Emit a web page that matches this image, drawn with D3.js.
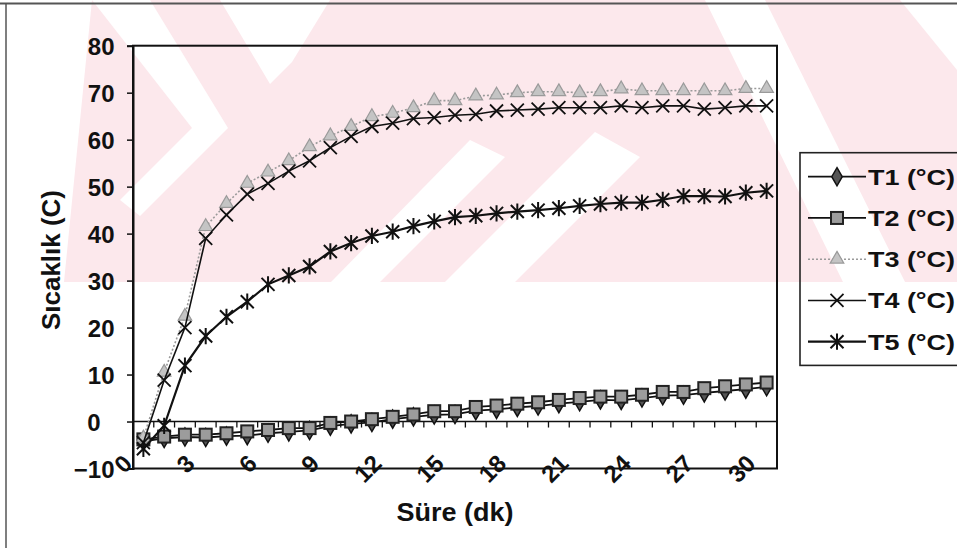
<!DOCTYPE html>
<html><head><meta charset="utf-8">
<script src="https://cdn.jsdelivr.net/npm/d3@7"></script>
<style>
body{margin:0;background:#fff;}
svg{display:block;}
text{font-family:Arial,"Liberation Sans",sans-serif;font-weight:bold;fill:#111;}
</style>
</head><body>
<svg id="c" width="957" height="559"></svg>
<script>
// ---------- data ----------
const minutes = [0,1,2,3,4,5,6,7,8,9,10,11,12,13,14,15,16,17,18,19,20,21,22,23,24,25,26,27,28,29,30];
const xTickLabels = [0,3,6,9,12,15,18,21,24,27,30];
const yTicks = [-10,0,10,20,30,40,50,60,70,80];
const seriesNames = ["T1 (°C)","T2 (°C)","T3 (°C)","T4 (°C)","T5 (°C)"];
const T1 = [-4.2,-3.6,-3.3,-3.4,-3.1,-3.0,-2.5,-2.2,-1.9,-1.0,-0.5,-0.2,0.5,1.0,1.4,1.5,2.3,2.6,3.0,3.3,3.8,4.2,4.6,4.5,5.0,5.5,5.6,6.1,6.5,6.9,7.4];
const T2 = [-3.8,-3.2,-2.8,-2.8,-2.5,-2.1,-1.8,-1.4,-1.4,-0.3,0.0,0.5,1.0,1.5,2.2,2.2,3.1,3.4,3.8,4.1,4.6,5.0,5.3,5.3,5.7,6.3,6.3,7.1,7.5,7.9,8.3];
const T3 = [-3.5,10.5,22.4,41.5,46.4,50.7,53.1,55.5,58.5,60.8,62.8,64.9,65.6,66.8,68.3,68.3,69.3,69.5,70.0,70.2,70.2,70.0,70.2,70.8,70.4,70.4,70.4,70.4,70.4,70.9,70.9];
const T4 = [-4.5,8.8,20.0,39.0,44.0,48.4,50.7,53.3,55.5,58.3,60.7,62.8,63.5,64.5,64.7,65.2,65.4,66.1,66.3,66.5,66.8,66.8,66.8,67.2,66.8,67.2,67.2,66.5,66.8,67.2,67.2];
const T5 = [-5.8,-0.9,11.9,18.2,22.3,25.5,29.2,31.1,33.0,36.2,38.0,39.5,40.4,41.6,42.6,43.5,43.8,44.3,44.7,45.0,45.4,45.9,46.3,46.6,46.6,47.2,48.0,48.0,47.9,48.7,49.1];
const seriesValues = [T1,T2,T3,T4,T5];

// decorative scan watermark (background only)
const watermarkPink = [[92,0],[957,0],[957,282],[64,282]];
const watermarkWhite = [
  [[92,0],[150,0],[228,128],[140,216],[120,200],[192,128],[92,0]],
  [[220,0],[330,0],[292,62],[270,84]],
  [[331,282],[380,282],[505,157],[470,140]],
  [[445,282],[515,282],[640,157],[595,132]],
  [[705,0],[765,0],[905,282],[843,282]],
  [[900,0],[957,0],[957,70]]
];

// ---------- layout ----------
const svg = d3.select("#c");
const L = 133, R = 777, T = 45.7, B = 468.5;

svg.append("polygon").attr("points", watermarkPink.join(" ")).attr("fill","#fce8ec");
svg.selectAll("polygon.w").data(watermarkWhite).join("polygon").attr("class","w")
  .attr("points", d => d.join(" ")).attr("fill","#fff");

svg.append("line").attr("x1",0).attr("x2",957).attr("y1",3.5).attr("y2",3.5).attr("stroke","#555").attr("stroke-width",2);
svg.append("line").attr("x1",6).attr("x2",6).attr("y1",3).attr("y2",548).attr("stroke","#555").attr("stroke-width",1.5);

const x = d3.scaleBand().domain(minutes).range([L,R]);
const bw = x.bandwidth();
const cx = d => x(d) + bw/2;
const y = d3.scaleLinear().domain([-10,80]).range([B,T]);

svg.append("rect").attr("x",L).attr("y",T).attr("width",R-L).attr("height",B-T)
  .attr("fill","none").attr("stroke","#111").attr("stroke-width",2);

const yAxis = svg.append("g").attr("transform",`translate(${L},0)`)
  .call(d3.axisLeft(y).tickValues(yTicks).tickSize(6).tickFormat(d3.format("d")));
yAxis.select(".domain").attr("stroke","#111").attr("stroke-width",2);
yAxis.selectAll(".tick line").attr("stroke","#111").attr("stroke-width",1.5);
yAxis.selectAll(".tick text")
  .attr("x",0).attr("dy","0.36em")
  .attr("transform", d => `translate(${d===0 ? -32.5 : -18.5},0)`)
  .style("font-size","24px").style("font-family","Arial, 'Liberation Sans', sans-serif").style("font-weight","bold").attr("fill","#111");

const x0 = svg.append("g");
x0.append("line").attr("x1",L).attr("x2",R).attr("y1",y(0)).attr("y2",y(0)).attr("stroke","#111").attr("stroke-width",1.5);
x0.selectAll("line.t").data(minutes.slice(1)).join("line").attr("class","t")
  .attr("x1",d=>x(d)).attr("x2",d=>x(d)).attr("y1",y(0)).attr("y2",y(0)+6)
  .attr("stroke","#111").attr("stroke-width",1.3);

svg.append("g").selectAll("text").data(xTickLabels).join("text")
  .attr("transform", d => `translate(${cx(d)-15.7},${B-9.5}) rotate(-45)`)
  .attr("text-anchor","end").attr("dy","0.36em").style("font-size","24px")
  .text(d=>d);

svg.append("text").attr("transform","translate(51,260) rotate(-90)")
  .attr("text-anchor","middle").attr("dy","0.36em").style("font-size","25px")
  .attr("textLength",140).attr("lengthAdjust","spacingAndGlyphs").text("Sıcaklık (C)");
svg.append("text").attr("x",455).attr("y",521).attr("text-anchor","middle").style("font-size","25px")
  .attr("textLength",117).attr("lengthAdjust","spacingAndGlyphs").text("Süre (dk)");

// ---------- series ----------
const styles = [
  {line:"#111", width:1.8, dash:null},
  {line:"#111", width:1.8, dash:null},
  {line:"#9a9a9a", width:1.6, dash:"2,2"},
  {line:"#111", width:1.6, dash:null},
  {line:"#111", width:2.2, dash:null}
];
function marker(g, k, px, py) {
  if (k===0) g.append("path").attr("d", d3.symbol(d3.symbolDiamond, 95)()).attr("transform",`translate(${px},${py})`)
      .attr("fill","#555").attr("stroke","#111").attr("stroke-width",1.5);
  else if (k===1) g.append("rect").attr("x",px-6).attr("y",py-6).attr("width",12).attr("height",12)
      .attr("fill","#9c9c9c").attr("stroke","#222").attr("stroke-width",2);
  else if (k===2) g.append("path").attr("d", d3.symbol(d3.symbolTriangle, 80)()).attr("transform",`translate(${px},${py})`)
      .attr("fill","#c4c4c4").attr("stroke","#9a9a9a").attr("stroke-width",1.2);
  else if (k===3) { const r=6.5; g.append("path").attr("d",`M${px-r},${py-r}L${px+r},${py+r}M${px-r},${py+r}L${px+r},${py-r}`)
      .attr("stroke","#111").attr("stroke-width",1.8).attr("fill","none"); }
  else { const r=6.5; g.append("path").attr("d",`M${px-r},${py-r}L${px+r},${py+r}M${px-r},${py+r}L${px+r},${py-r}M${px},${py-r*1.25}L${px},${py+r*1.25}`)
      .attr("stroke","#111").attr("stroke-width",2).attr("fill","none"); }
}
const line = d3.line().x((d,i)=>cx(minutes[i])).y(d=>y(d));
seriesValues.forEach((vals,k)=>{
  const g = svg.append("g");
  g.append("path").attr("d", line(vals)).attr("fill","none").attr("stroke",styles[k].line)
    .attr("stroke-width",styles[k].width).attr("stroke-dasharray",styles[k].dash);
  vals.forEach((v,i)=>marker(g,k,cx(minutes[i]),y(v)));
});

// ---------- legend ----------
const lg = svg.append("g");
lg.append("rect").attr("x",800).attr("y",152.7).attr("width",170).attr("height",212.7)
  .attr("fill","none").attr("stroke","#222").attr("stroke-width",1.6);
const legY = d3.scalePoint().domain(seriesNames).range([176.7,341.7]);
seriesNames.forEach((n,k)=>{
  const yy = legY(n);
  lg.append("line").attr("x1",808).attr("x2",866).attr("y1",yy).attr("y2",yy)
    .attr("stroke",styles[k].line).attr("stroke-width",styles[k].width).attr("stroke-dasharray",styles[k].dash);
  marker(lg,k,837,yy);
  lg.append("text").attr("x",868).attr("y",yy).attr("dy","0.36em").style("font-size","22px")
    .attr("textLength",87).attr("lengthAdjust","spacingAndGlyphs").text(n);
});
</script>
</body></html>
